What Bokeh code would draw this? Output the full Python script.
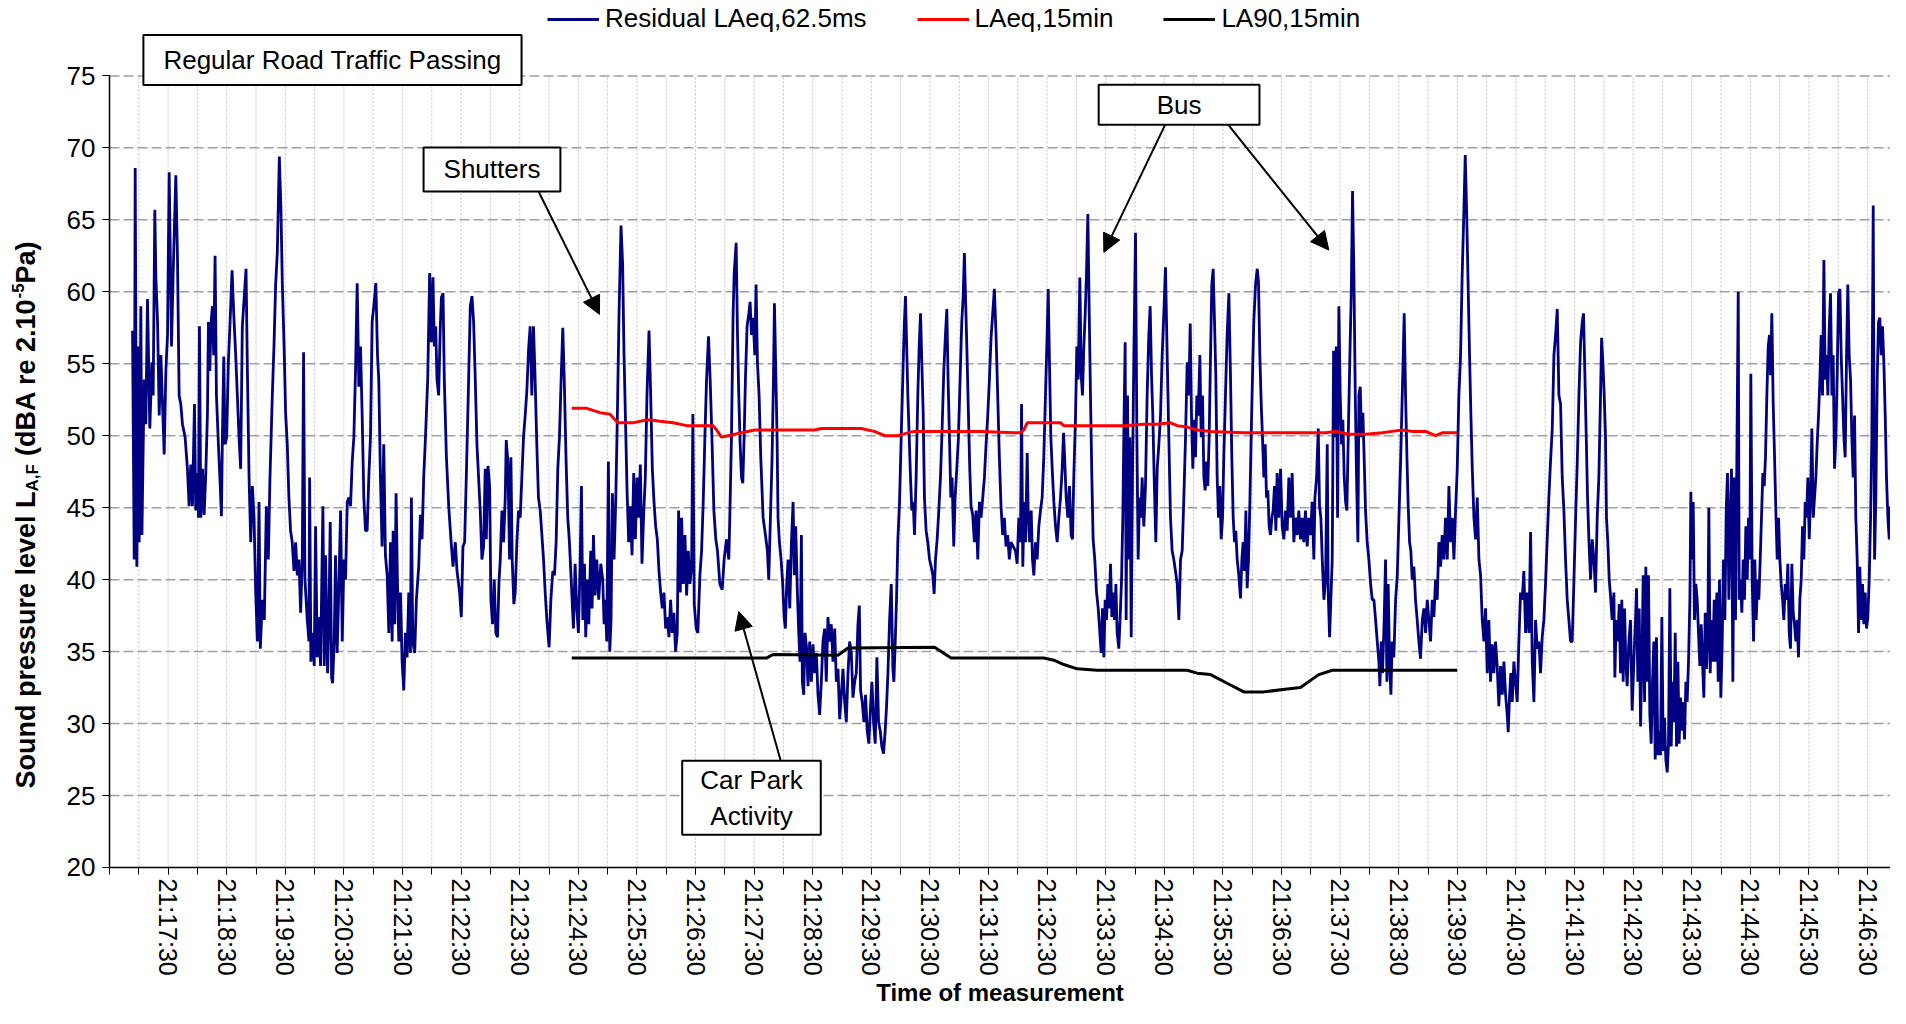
import math
from bokeh.plotting import figure
from bokeh.models import (FixedTicker, Range1d, Label, Arrow, NormalHead,
                          Legend, LegendItem)
from bokeh.embed import file_html
from bokeh.resources import INLINE

FONT = "Liberation Sans"

# ---------------- data (time = seconds after 21:16:30) ----------------
start_time = "21:16:30"
tick_labels = ["21:17:30", "21:18:30", "21:19:30", "21:20:30", "21:21:30", "21:22:30",
               "21:23:30", "21:24:30", "21:25:30", "21:26:30", "21:27:30", "21:28:30",
               "21:29:30", "21:30:30", "21:31:30", "21:32:30", "21:33:30", "21:34:30",
               "21:35:30", "21:36:30", "21:37:30", "21:38:30", "21:39:30", "21:40:30",
               "21:41:30", "21:42:30", "21:43:30", "21:44:30", "21:45:30", "21:46:30"]
y_ticks = [20, 25, 30, 35, 40, 45, 50, 55, 60, 65, 70, 75]

# Residual LAeq,62.5ms  (time s, dBA)
resid_1 = [(23.6,57.3),(25.3,41.4),(26.3,68.6),(28.0,40.9),(29.7,56.2),(30.4,42.6),(32.1,59.0),(33.2,43.1),(35.5,53.9),(37.2,50.8),(38.9,59.5),(41.3,50.5),(43.4,55.1),(44.7,52.8),(46.4,65.7),(47.5,61.0),(49.2,57.9),(50.9,51.4),(52.6,55.6),(54.3,52.2),(56.0,48.7),(57.7,54.5),(59.4,57.0),(61.1,68.3),(63.5,56.2),(65.2,61.3),(67.9,68.1),(69.6,62.4),(71.3,52.8),(73.0,52.2),(74.7,50.8),(77.4,49.9),(79.8,47.7),(81.5,45.1),(83.2,48.0),(84.9,45.1),(87.0,52.2),(88.3,44.8),(90.1,47.4),(91.1,44.3),(92.1,57.6),(93.5,44.3),(95.2,47.7),(96.9,44.5),(98.6,47.4),(100.3,51.6),(101.3,57.9),(102.7,54.5),(104.0,57.9),(105.4,59.0),(106.7,55.6),(108.1,62.5),(109.5,52.8),(111.5,49.4),(113.2,46.8),(114.6,44.4),(115.6,49.9),(117.0,55.5),(118.3,49.4),(120.0,49.9),(121.7,55.1),(123.1,57.3),(125.5,61.5),(127.2,58.5),(129.2,55.6),(130.9,52.8),(132.6,49.9),(134.3,47.7),(136.0,57.6),(139.8,61.6),(141.2,54.5),(142.9,47.1),(144.6,42.6),(146.3,46.5),(148.0,44.3),(149.7,39.1),(151.4,35.7),(153.1,45.4),(154.4,35.2),(156.5,38.6),(158.5,37.2),(160.6,45.1),(162.6,41.4),(164.3,47.1),(166.7,52.8),(168.4,56.2),(170.1,60.5),(171.8,62.7),(173.9,69.4),(175.6,65.6),(176.9,60.7),(179.0,55.6),(180.3,51.6),(182.0,49.4),(183.7,45.7),(185.4,43.4),(187.1,42.6),(188.9,40.6),(190.6,42.6),(192.3,40.3),(194.0,41.4),(195.7,37.7),(197.4,41.4),(198.7,55.8),(200.1,40.0),(202.5,37.2),(204.2,35.7),(204.9,47.1),(206.2,34.3),(208.3,36.3),(209.6,34.0),(211.0,43.7),(212.7,34.6),(214.4,37.4),(216.1,34.0),(218.5,45.1),(219.9,34.0),(221.2,41.7),(223.3,33.5),(224.6,37.2),(226.0,44.0),(227.4,33.2),(228.4,32.8),(230.1,35.7),(231.4,41.7),(233.1,34.9),(234.8,39.4),(236.6,44.8),(238.3,35.7),(240.0,41.4),(241.7,40.0),(243.4,45.4),(245.1,45.7),(246.8,45.1),(248.5,48.2),(250.2,49.9),(251.9,54.5),(253.6,60.6),(255.3,53.4),(257.0,56.2),(258.7,51.4),(260.4,45.7),(262.1,43.4),(263.8,43.4),(265.5,47.1),(267.2,49.9),(268.9,57.9),(270.6,59.0),(272.7,60.6),(274.4,55.6),(275.7,53.9),(277.4,47.1),(279.1,42.3),(280.8,49.4),(282.5,41.7),(284.3,40.3),(286.0,36.3),(287.7,42.6),(289.4,35.7),(290.4,43.4),(292.1,36.9),(293.4,46.0),(294.8,40.0),(296.2,35.7),(297.9,39.1),(299.6,34.3),(301.3,32.3),(303.0,36.3),(304.7,34.6),(306.4,39.1),(308.1,34.9),(309.1,45.7),(310.5,35.7),(312.5,34.9),(314.2,38.6),(316.6,40.9),(318.3,44.5),(320.0,42.8),(321.7,47.1),(323.4,49.7)]
resid_2 = [(325.8,53.9),(327.8,61.3),(329.5,56.5),(331.2,61.0),(332.6,56.2),(334.0,57.6),(335.3,53.9),(337.0,52.8),(338.7,57.6),(339.8,59.6),(341.5,59.9),(342.8,53.9),(344.9,48.6),(347.3,45.1),(349.6,42.8),(351.7,40.9),(354.1,42.6),(355.8,40.6),(358.5,39.1),(360.2,37.4),(361.9,42.3),(363.6,42.6),(365.3,47.1),(367.7,53.9),(369.4,59.0),(371.1,59.7),(372.8,57.9),(374.5,53.9),(376.2,49.4),(377.9,47.1),(379.6,44.8),(381.3,41.4),(383.0,42.3),(384.7,47.7),(385.8,42.8),(387.5,47.9),(389.2,46.5),(390.5,38.6),(392.2,36.9),(393.9,40.0),(395.6,36.3),(397.3,36.0),(398.7,39.7),(400.1,41.4),(401.8,44.8),(403.5,42.6),(405.2,45.7),(406.2,49.7),(407.9,48.2),(409.6,41.4),(411.0,48.5),(412.3,41.4),(414.0,38.3),(415.4,39.1),(417.1,42.6),(418.8,44.8),(420.5,44.3),(422.2,47.1),(423.9,49.9),(425.6,51.4),(427.3,53.1),(429.0,55.9),(430.7,57.6),(432.4,52.8),(434.1,57.6),(435.8,53.9),(437.5,49.4),(439.2,45.7),(441.0,44.8),(442.7,43.1),(444.4,41.4),(446.1,39.1),(447.8,37.2),(450.1,35.3),(451.9,38.6),(453.9,40.6),(455.6,40.3),(457.3,42.6),(459.0,47.7),(460.7,49.9),(462.4,53.9),(464.1,57.5),(465.8,53.4),(467.5,48.2),(469.2,44.3),(470.9,42.6),(473.3,39.1),(475.0,36.6),(476.7,41.1),(478.4,38.0),(480.1,36.3),(481.8,40.9),(483.2,46.5),(484.6,37.2),(486.3,41.1),(487.6,36.0),(489.3,40.0),(490.7,36.9),(492.7,42.0),(494.1,38.0),(495.5,43.1),(497.2,38.9),(498.9,41.4),(500.9,38.6),(503.0,41.1),(505.0,40.0),(506.4,36.9),(507.7,38.6),(509.1,35.7),(510.8,48.2),(512.2,35.0),(513.5,37.2),(514.9,46.0),(516.6,41.4),(518.3,45.4),(520.0,51.4),(521.7,58.5),(523.7,64.6),(525.4,61.9),(526.8,55.6),(528.5,50.5),(529.9,46.2),(531.6,42.6),(533.3,45.1),(535.0,41.7),(536.7,47.4),(538.4,42.8),(540.1,47.1),(541.8,44.3),(543.5,48.0),(545.2,41.1),(546.9,44.5),(548.6,47.1),(550.3,52.8),(552.4,57.3),(554.1,52.8),(555.8,47.7),(557.5,45.4),(559.2,43.7),(560.9,42.8),(562.6,40.6),(564.3,39.1),(566.0,38.0),(567.7,39.1),(569.4,36.6),(571.1,37.4),(572.8,36.0),(574.5,38.6),(576.2,36.3),(577.9,37.7),(579.6,35.0),(581.3,36.3),(582.7,44.8),(584.4,39.1),(585.8,44.3),(587.5,39.7),(589.2,43.1),(590.9,38.9),(592.6,42.0),(594.3,39.7),(596.0,40.9),(597.3,51.5),(598.7,38.3),(600.7,36.6),(602.4,36.3),(604.5,40.3),(606.2,42.0),(607.9,45.4),(609.6,49.9),(611.3,53.9),(613.3,56.9),(615.0,53.9),(616.8,49.9),(618.8,44.8),(620.8,42.8),(622.5,42.0),(624.9,39.7)]
resid_3 = [(627.3,39.3),(629.3,41.4),(631.7,42.8),(634.1,41.4),(635.1,44.3),(636.8,49.9),(638.5,58.5),(639.6,61.3),(641.6,63.4),(643.0,57.0),(644.3,52.8),(645.7,49.4),(647.1,47.1),(648.4,46.7),(649.8,49.9),(651.1,53.9),(652.8,57.6),(654.6,58.5),(655.9,59.3),(657.3,57.0),(659.0,58.2),(660.7,55.6),(662.0,60.5),(663.4,55.1),(665.1,52.8),(666.8,48.5),(669.2,44.3),(671.6,43.1),(673.6,42.0),(675.0,40.0),(676.7,44.3),(678.4,48.5),(679.8,53.9),(680.8,59.2),(682.1,54.8),(683.5,49.9),(684.5,44.3),(685.9,42.6),(687.6,41.4),(689.3,39.7),(690.7,37.4),(692.0,36.6),(693.4,39.7),(694.8,41.4),(696.5,38.0),(698.2,42.6),(699.9,45.4),(701.2,40.3),(702.6,43.7),(704.3,39.1),(705.7,36.3),(707.0,34.3),(708.4,43.1),(709.4,32.9),(710.8,32.0),(712.1,36.3),(713.8,35.2),(715.2,32.6),(716.9,35.7),(718.6,32.9),(720.3,35.5),(722.0,33.5),(723.7,34.9),(725.4,32.0),(727.1,30.6),(728.8,32.9),(730.5,35.7),(732.2,36.6),(733.9,32.9),(735.6,37.4),(737.3,35.7),(739.0,36.9),(740.7,34.3),(742.5,36.6),(744.2,32.9),(745.9,33.8),(747.6,30.3),(749.3,32.0),(751.0,33.8),(752.7,31.5),(754.4,30.1),(756.1,33.5),(757.8,35.7),(759.5,34.9),(761.2,31.8),(762.9,32.9),(764.6,33.5),(766.3,36.9),(767.7,38.2),(769.0,32.3),(770.7,31.5),(772.4,30.1),(774.1,32.0),(775.8,29.5),(777.5,28.6),(779.2,31.2),(780.6,32.9),(782.3,30.1),(784.0,28.6),(785.7,34.6),(787.4,30.1),(789.1,29.5),(790.8,28.4),(792.5,27.9),(794.2,29.5),(795.6,31.2),(797.0,33.5),(798.7,37.2),(800.4,39.7),(802.1,33.8),(803.1,32.9),(804.5,35.7),(805.8,38.6),(807.2,42.8),(808.9,45.4),(810.6,49.9),(812.3,54.2),(813.7,57.6),(815.0,59.7),(816.4,55.6),(817.4,52.8),(818.8,49.9),(820.1,47.1),(821.5,44.8),(822.9,45.4),(824.2,43.1),(825.9,47.1),(827.6,52.8),(829.0,56.2),(830.4,58.5),(831.7,55.1),(833.1,51.6),(834.4,45.7),(836.1,43.4),(837.8,42.6),(839.6,41.4),(841.3,40.9),(843.0,40.3),(844.3,39.0),(845.7,41.4),(847.4,42.8),(849.1,44.8),(850.8,47.1),(852.5,50.5),(854.2,54.5),(855.9,57.0),(857.3,58.8),(858.6,53.9),(860.0,49.9),(861.4,45.7),(862.7,47.1),(864.4,42.3),(865.8,45.7),(867.5,47.7),(869.2,49.9),(870.9,53.9),(872.6,57.9),(874.0,59.6),(875.3,62.7),(876.7,59.0),(878.0,55.6),(879.4,51.6),(880.8,47.7),(882.1,45.1),(883.8,44.5),(885.5,42.6),(887.3,44.8),(889.0,41.4),(890.7,45.4),(892.4,44.3),(894.1,45.7),(895.8,47.1),(897.5,49.4),(899.2,51.4),(900.9,53.9),(902.6,56.8),(904.3,58.5),(906.0,60.2),(907.7,57.0),(909.4,52.8),(911.1,48.5),(912.8,45.1),(914.5,43.1),(916.2,44.3),(917.9,42.3),(919.6,43.1),(921.3,41.4),(923.0,42.6)]
resid_4 = [(927.6,42.0),(929.3,41.1),(931.0,44.3),(932.7,42.6),(933.8,52.2),(935.1,40.9),(936.5,45.4),(937.9,42.6),(939.6,48.8),(940.6,44.8),(942.0,42.6),(943.7,44.8),(945.0,41.4),(946.4,40.3),(948.1,42.6),(949.8,41.4),(951.5,43.7),(953.2,44.8),(954.9,45.7),(956.6,48.5),(958.3,52.8),(960.0,57.0),(961.1,60.2),(962.4,55.1),(963.8,49.9),(965.2,47.7),(966.9,45.4),(968.6,43.7),(970.3,42.6),(972.0,44.3),(973.7,45.7),(975.4,47.7),(976.8,50.2),(978.1,48.2),(979.5,45.7),(981.2,44.3),(982.9,46.5),(984.6,43.1),(986.0,42.8),(987.3,47.1),(989.1,51.4),(990.4,56.2),(991.8,53.9),(993.5,61.0),(994.9,54.2),(996.2,52.8),(997.6,56.2),(999.0,58.5),(1000.3,61.3),(1001.7,65.4),(1003.0,59.0),(1004.4,52.8),(1005.8,47.1),(1007.1,42.8),(1008.8,41.4),(1010.6,39.1),(1012.3,38.0),(1014.0,36.3),(1015.3,34.9),(1016.7,38.0),(1018.1,34.6),(1019.4,38.6),(1020.8,37.2),(1022.2,39.7),(1023.5,38.0),(1024.9,41.1),(1026.3,37.4),(1027.6,39.1),(1029.0,37.2),(1030.4,39.7),(1031.7,36.3),(1033.4,35.2),(1034.8,37.4),(1036.2,40.0),(1037.5,44.3),(1038.5,49.9),(1039.9,56.5),(1040.9,37.2),(1042.3,52.8),(1043.7,41.4),(1044.7,49.9),(1046.1,36.0),(1047.4,47.1),(1048.8,55.6),(1050.5,64.1),(1051.9,49.9),(1053.2,41.4),(1054.6,45.7),(1056.0,44.3),(1057.3,47.1),(1059.0,43.7),(1060.7,46.5),(1062.4,52.8),(1064.1,57.0),(1065.5,59.0),(1066.9,54.2),(1068.2,51.4),(1069.6,47.1),(1071.3,42.6),(1072.7,47.7),(1074.4,49.4),(1076.1,51.4),(1077.8,55.6),(1079.5,58.5),(1081.2,61.7),(1082.9,55.6),(1084.6,49.9),(1086.3,44.3),(1088.0,42.0),(1089.7,41.4),(1091.4,40.6),(1093.2,39.7),(1094.9,37.2),(1096.6,41.4),(1098.3,42.0),(1100.0,45.7),(1101.7,49.9),(1103.4,55.1),(1105.1,52.8),(1106.5,57.8),(1107.8,51.4),(1109.2,47.7),(1110.6,51.1),(1111.9,48.5),(1113.3,52.8),(1114.7,51.4),(1116.4,55.6),(1117.7,49.9),(1119.1,52.8),(1120.5,47.1),(1121.8,46.2),(1123.2,48.2),(1124.5,46.5),(1125.9,49.9),(1127.3,55.6),(1128.6,60.5),(1130.0,61.6),(1131.4,57.9),(1132.7,54.2),(1134.1,47.1),(1135.5,44.3),(1136.8,46.5),(1138.2,42.8),(1139.6,44.3),(1140.9,48.5),(1142.6,52.8),(1144.3,57.0),(1146.1,59.9),(1147.8,53.9),(1149.1,48.5),(1150.5,44.3),(1151.9,42.6),(1153.2,43.4),(1154.6,41.4),(1156.3,40.3),(1158.0,38.7),(1159.4,41.4),(1160.7,42.6),(1162.1,40.6),(1163.5,44.8),(1164.8,39.4),(1166.2,41.4),(1167.6,45.4),(1168.9,49.9),(1170.3,54.2),(1171.6,57.9),(1173.4,60.5),(1175.1,61.6),(1176.4,60.7),(1177.8,55.6),(1179.2,52.2),(1180.5,49.9),(1181.9,47.1),(1183.3,49.4),(1184.6,45.7),(1186.0,46.2),(1187.3,43.7),(1188.7,43.1),(1190.1,44.3),(1191.4,44.8),(1192.8,46.5),(1194.2,43.4),(1195.5,47.4),(1197.2,44.3),(1199.0,47.7),(1200.7,43.7),(1202.4,42.8),(1204.1,44.8),(1205.8,43.4),(1207.5,47.1),(1209.2,44.3),(1210.9,47.4),(1212.6,42.6),(1214.3,44.3),(1216.0,43.1),(1217.7,44.8),(1219.4,42.8),(1221.1,44.3),(1222.8,42.6),(1224.5,44.8),(1226.3,42.3),(1228.0,44.3),(1229.7,43.1)]
resid_5 = [(1231.4,45.4),(1233.1,41.4),(1234.2,45.7),(1235.9,47.1),(1237.6,50.5),(1238.9,45.1),(1240.3,44.3),(1241.7,41.4),(1243.4,38.6),(1245.1,40.0),(1246.8,49.4),(1247.8,39.1),(1249.2,36.0),(1250.5,38.6),(1251.9,41.4),(1253.3,55.9),(1254.6,49.9),(1256.0,56.2),(1257.4,44.3),(1258.7,59.0),(1260.1,52.8),(1261.5,49.4),(1262.8,51.1),(1264.2,47.1),(1265.6,45.4),(1266.9,44.8),(1268.3,49.9),(1270.0,55.6),(1271.4,59.9),(1272.7,67.0),(1274.1,61.3),(1275.5,52.8),(1276.8,47.1),(1278.2,42.6),(1279.2,52.8),(1280.6,53.4),(1281.9,49.9),(1283.3,51.6),(1284.7,48.2),(1286.0,44.8),(1287.7,42.6),(1289.4,41.4),(1291.2,39.7),(1292.9,38.6),(1294.6,38.6),(1296.3,37.2),(1298.0,35.7),(1299.7,34.3),(1300.7,32.6),(1302.1,35.7),(1303.4,33.5),(1305.1,37.2),(1306.5,41.4),(1307.9,32.9),(1309.2,39.7),(1310.6,34.3),(1312.0,32.0),(1313.3,35.7),(1315.0,34.6),(1316.8,38.6),(1318.5,40.3),(1320.2,44.3),(1321.9,48.2),(1323.6,52.8),(1324.6,55.6),(1325.6,58.5),(1327.0,52.8),(1328.4,48.5),(1329.7,45.1),(1331.1,42.6),(1332.4,42.0),(1333.8,40.0),(1335.5,40.9),(1337.2,38.6),(1338.9,37.2),(1340.6,35.7),(1342.3,34.5),(1344.1,37.2),(1345.8,38.0),(1347.5,36.3),(1349.2,38.6),(1350.9,37.2),(1352.6,35.7),(1354.3,38.6),(1356.0,37.4),(1357.7,40.0),(1359.4,38.6),(1361.1,42.6),(1362.8,40.9),(1364.5,43.1),(1366.2,41.4),(1367.9,44.3),(1369.7,41.4),(1371.4,46.5),(1373.1,42.6),(1374.8,44.3),(1376.5,41.4),(1378.2,44.8),(1379.9,47.7),(1381.6,52.8),(1383.3,55.6),(1385.0,61.3),(1386.7,65.6),(1388.1,69.5),(1389.5,65.6),(1390.8,61.3),(1392.5,55.6),(1393.9,51.4),(1395.3,47.7),(1397.0,44.3),(1398.7,42.8),(1400.4,45.7),(1402.1,41.4),(1403.8,40.3),(1405.5,37.2),(1407.2,35.7),(1408.9,38.0),(1410.6,33.5),(1412.3,37.2),(1414.0,32.9),(1415.7,35.5),(1417.4,33.5),(1419.1,35.7),(1420.8,34.0),(1422.5,31.2),(1424.3,34.0),(1426.0,32.0),(1427.7,34.3),(1429.4,32.0),(1431.1,30.6),(1432.1,29.4),(1433.5,32.0),(1434.8,33.5),(1436.2,31.5),(1437.9,34.3),(1439.6,32.9),(1441.3,31.5),(1443.0,35.7),(1444.7,39.1),(1446.4,38.6),(1448.1,40.6),(1449.9,36.3),(1451.6,39.1),(1453.3,36.3),(1455.0,43.3),(1456.7,34.3),(1458.4,31.5),(1460.1,37.2),(1461.8,35.2),(1463.5,35.7),(1465.2,33.5),(1466.9,36.0),(1468.6,37.2),(1470.3,39.7),(1472.0,42.8),(1473.7,45.7),(1475.4,48.2),(1477.2,50.5),(1478.9,55.6),(1480.6,57.0),(1482.3,58.8),(1484.0,52.8),(1485.7,52.2),(1487.4,47.1),(1489.1,44.8),(1490.8,41.4),(1492.5,38.6),(1494.2,37.2),(1495.9,35.7),(1497.6,35.7),(1499.4,40.0),(1501.1,44.3),(1502.8,48.2),(1504.5,52.8),(1506.2,56.5),(1507.9,57.9),(1509.2,58.5),(1510.6,54.2),(1512.0,49.9),(1513.3,45.7),(1514.7,42.8),(1516.4,40.0),(1518.1,42.8),(1519.8,41.4),(1521.5,39.1),(1523.2,44.3),(1524.9,47.1),(1526.6,52.8),(1527.7,56.8),(1529.0,55.1),(1530.4,52.8)]
resid_6 = [(1531.7,49.9),(1532.7,44.3),(1534.1,42.6),(1535.5,40.0),(1536.8,38.9),(1538.5,37.2),(1540.3,39.1),(1541.3,33.2),(1542.6,37.2),(1544.3,35.7),(1545.7,38.3),(1547.1,33.5),(1548.4,38.6),(1549.8,32.9),(1551.2,38.0),(1552.5,34.3),(1553.9,32.6),(1555.6,35.7),(1557.3,37.2),(1559.0,30.9),(1560.7,34.3),(1562.4,37.2),(1563.5,39.4),(1564.8,32.9),(1566.2,38.0),(1567.6,29.8),(1569.3,35.7),(1570.3,40.3),(1571.7,31.5),(1573.0,40.9),(1574.4,32.9),(1575.7,40.3),(1577.1,30.6),(1578.5,28.6),(1579.8,32.9),(1581.2,35.7),(1582.6,27.5),(1583.9,36.0),(1585.3,27.8),(1586.7,29.5),(1588.0,27.8),(1589.4,37.4),(1590.8,28.1),(1592.1,30.4),(1593.5,27.5),(1594.9,26.6),(1596.2,28.6),(1597.6,39.4),(1599.0,28.4),(1600.3,32.9),(1601.7,30.1),(1603.1,36.3),(1604.4,28.4),(1605.8,34.3),(1607.1,28.6),(1608.5,31.8),(1609.9,29.5),(1611.2,31.5),(1612.6,28.9),(1614.0,32.9),(1615.3,31.5),(1616.7,34.3),(1618.1,38.6),(1619.1,46.1),(1620.1,41.4),(1621.5,45.4),(1622.8,37.2),(1624.2,39.7),(1625.6,38.6),(1626.9,36.3),(1628.3,34.0),(1629.7,36.9),(1631.0,34.3),(1632.4,31.8),(1633.8,37.7),(1635.1,33.8),(1636.5,36.3),(1637.5,45.0),(1638.9,33.5),(1640.3,37.2),(1641.6,34.3),(1643.0,38.6),(1644.4,34.3),(1645.7,39.1),(1647.1,32.9),(1648.4,40.0),(1649.8,31.8),(1651.2,35.7),(1652.5,41.4),(1653.9,37.2),(1655.3,44.8),(1656.6,47.4),(1658.0,38.6),(1659.4,44.3),(1660.7,47.7),(1662.1,32.9),(1663.5,47.1),(1664.8,37.2),(1666.2,48.5),(1667.6,60.0),(1668.6,38.6),(1669.9,40.0),(1671.3,37.7),(1672.7,41.4),(1674.0,38.6),(1675.4,43.7),(1676.8,40.0),(1678.1,44.3),(1679.5,41.4),(1680.5,54.3),(1681.9,40.0),(1683.3,35.7),(1684.6,41.4),(1686.0,37.2),(1687.4,40.0),(1688.7,38.6),(1690.1,41.4),(1691.4,44.3),(1692.8,47.4),(1694.2,46.5),(1695.5,48.5),(1696.9,52.8),(1698.3,56.2),(1699.6,57.0),(1700.7,54.2),(1702.0,58.5),(1703.4,52.2),(1704.8,48.5),(1706.1,44.8),(1707.5,41.4),(1708.9,44.3),(1710.2,41.4),(1711.6,39.7),(1713.0,38.6),(1714.3,37.2),(1715.7,39.7),(1717.0,38.6),(1718.4,41.1),(1719.8,36.3),(1721.1,35.2),(1722.5,41.1),(1723.9,37.7),(1725.2,36.9),(1726.6,35.7),(1728.0,37.2),(1729.3,34.6),(1730.7,38.6),(1732.1,40.0),(1733.4,43.7),(1734.8,41.4),(1736.2,45.4),(1737.5,44.3),(1738.9,47.1),(1740.3,42.8),(1741.6,45.7),(1743.0,50.5),(1744.4,44.3),(1745.7,45.7),(1747.1,47.1),(1748.4,49.4),(1749.8,51.4),(1751.2,53.9),(1752.5,57.0),(1753.9,52.8),(1755.3,62.2),(1756.6,53.9),(1758.0,55.6),(1759.4,52.8),(1760.7,57.3),(1762.1,59.9),(1763.5,52.8),(1764.8,55.6),(1766.2,47.7),(1767.6,49.9),(1768.9,54.2),(1770.3,59.9),(1771.7,60.2),(1773.0,55.6),(1774.4,52.8),(1775.8,49.9),(1777.1,48.5),(1778.5,55.6),(1779.8,60.5),(1781.2,55.6),(1782.6,53.9),(1783.9,49.9),(1785.3,47.1),(1786.7,51.4),(1788.0,44.3),(1789.4,41.4),(1790.8,36.3),(1792.1,40.9),(1793.5,37.2),(1794.9,39.7),(1796.2,36.9),(1797.6,39.1),(1799.0,36.6),(1800.3,37.4),(1801.7,40.0),(1803.1,44.3),(1804.4,49.9),(1805.8,66.0),(1807.2,41.4),(1808.5,45.7),(1809.9,53.9),(1811.2,57.9),(1812.6,58.2),(1814.0,55.6),(1815.3,57.6),(1816.7,55.1),(1818.1,51.4),(1819.4,47.1),(1820.8,44.3),(1822.2,42.8),(1823.5,45.1),(1824.9,41.4),(1826.3,43.1),(1827.6,41.4),(1828.6,48.2),(1829.7,44.3)]

# LAeq,15min
laeq15_t = [473.3, 488.7, 502.3, 512.5, 517.6, 521.0, 536.3, 550.0, 553.4, 563.6, 577.2, 590.9, 611.3, 618.1, 621.5, 626.6, 633.4, 647.1, 660.7, 674.3, 701.6, 722.0, 728.8, 742.5, 769.7, 776.5, 783.3, 793.6, 807.2, 817.4, 824.2, 858.3, 892.4, 926.4, 932.7, 936.2, 939.6, 956.6, 973.7, 977.1, 990.8, 1024.9, 1038.5, 1059.0, 1072.7, 1086.3, 1089.7, 1093.2, 1103.4, 1113.6, 1127.3, 1161.4, 1195.5, 1229.7, 1245.1, 1255.3, 1269.0, 1286.0, 1303.1, 1313.3, 1323.6, 1333.8, 1347.5, 1357.7, 1364.5, 1379.9]
laeq15_v = [51.9, 51.9, 51.6, 51.5, 51.1, 50.9, 50.9, 51.1, 51.1, 51.0, 50.9, 50.7, 50.7, 50.7, 50.4, 49.9, 50.0, 50.2, 50.4, 50.4, 50.4, 50.4, 50.5, 50.5, 50.5, 50.4, 50.3, 50.0, 50.0, 50.2, 50.3, 50.3, 50.3, 50.2, 50.2, 50.4, 50.9, 50.9, 50.9, 50.7, 50.7, 50.7, 50.7, 50.8, 50.8, 50.9, 50.8, 50.7, 50.6, 50.4, 50.3, 50.2, 50.2, 50.2, 50.2, 50.3, 50.1, 50.1, 50.2, 50.3, 50.4, 50.3, 50.3, 50.0, 50.2, 50.2]

# LA90,15min
la9015_t = [473.3, 672.6, 679.4, 745.9, 756.1, 844.7, 851.5, 861.7, 956.6, 966.9, 977.1, 990.8, 1011.2, 1103.4, 1113.6, 1127.3, 1144.3, 1161.4, 1181.9, 1205.8, 1219.4, 1229.7, 1238.3, 1251.9, 1379.9]
la9015_v = [34.55, 34.55, 34.8, 34.75, 35.25, 35.3, 35.0, 34.55, 34.55, 34.4, 34.1, 33.8, 33.7, 33.7, 33.5, 33.4, 32.8, 32.2, 32.2, 32.4, 32.5, 33.0, 33.4, 33.7, 33.7]

# ---------------- build ----------------
def secs(s):
    h, m, x = (int(v) for v in s.split(":"))
    return h * 3600 + m * 60 + x

T0 = secs(start_time)
tick_pos = [secs(s) - T0 for s in tick_labels]
minor_pos = list(range(0, 1830, 30))
T_END = 1830

resid = resid_1 + resid_2 + resid_3 + resid_4 + resid_5 + resid_6
resid_t = [a for a, b in resid]
resid_v = [b for a, b in resid]

# The frame covers the whole canvas; both axes are pinned (fixed_location)
# so that legend, boxes, axis labels and the y title all sit inside it.
W, H = 1890, 1008
p = figure(width=W, height=H, output_backend="svg", toolbar_location=None,
           x_range=Range1d(-111.6, 1823.5), y_range=Range1d(10.20, 80.24),
           min_border_left=0, min_border_right=0, min_border_top=0,
           min_border_bottom=0)
p.outline_line_color = None
p.background_fill_color = "white"
p.border_fill_color = "white"
p.xgrid.visible = False
p.ygrid.visible = False

xa = p.xaxis[0]
xa.fixed_location = y_ticks[0]
xa.bounds = (0, T_END)
xa.ticker = FixedTicker(ticks=tick_pos, minor_ticks=minor_pos)
xa.major_label_overrides = {tp: lab for tp, lab in zip(tick_pos, tick_labels)}
xa.major_label_orientation = -math.pi / 2
xa.major_label_text_font = FONT
xa.major_label_text_font_size = "25px"
xa.major_label_text_color = "black"
xa.major_label_standoff = 4
xa.major_tick_in = 0
xa.major_tick_out = 7
xa.minor_tick_in = 0
xa.minor_tick_out = 7
xa.major_tick_line_color = "black"
xa.minor_tick_line_color = "black"
xa.axis_line_color = "black"
xa.axis_line_width = 1.5
xa.axis_label = "Time of measurement"
xa.axis_label_text_font = FONT
xa.axis_label_text_font_size = "24px"
xa.axis_label_text_font_style = "bold"
xa.axis_label_text_color = "black"
xa.axis_label_standoff = 0

ya = p.yaxis[0]
ya.fixed_location = 0
ya.bounds = (20, 75)
ya.ticker = FixedTicker(ticks=y_ticks, minor_ticks=[])
ya.major_label_text_font = FONT
ya.major_label_text_font_size = "26px"
ya.major_label_text_color = "black"
ya.major_label_standoff = 7
ya.major_tick_in = 0
ya.major_tick_out = 7
ya.minor_tick_out = 0
ya.major_tick_line_color = "black"
ya.axis_line_color = "black"
ya.axis_line_width = 1.5

# gridlines (limited to the 20..75 plotting box)
gx = [t for t in minor_pos if t > 0]
p.segment(x0=gx, y0=[y_ticks[0]] * len(gx), x1=gx, y1=[y_ticks[-1]] * len(gx),
          line_color="#c4c4c4", line_width=1, line_dash="2 2", level="underlay")
gy = y_ticks[1:]
p.segment(x0=[0] * len(gy), y0=gy, x1=[T_END] * len(gy), y1=gy,
          line_color="#a0a0a0", line_width=1.5, line_dash="10 4", level="underlay")

r_res = p.line(resid_t, resid_v, line_color="#000080", line_width=2.8)
r_eq = p.line(laeq15_t, laeq15_v, line_color="#ff0000", line_width=3)
r_90 = p.line(la9015_t, la9015_v, line_color="black", line_width=3)

legend = Legend(items=[LegendItem(label="Residual LAeq,62.5ms", renderers=[r_res]),
                       LegendItem(label="LAeq,15min", renderers=[r_eq]),
                       LegendItem(label="LA90,15min", renderers=[r_90])],
                orientation="horizontal", location=(547, 974), padding=0, margin=0,
                spacing=50, glyph_width=52, glyph_height=20, label_standoff=6,
                label_text_font=FONT, label_text_font_size="26px",
                label_text_color="black", border_line_color=None,
                background_fill_alpha=0)
p.add_layout(legend)

def note(x, y, text, pad):
    p.add_layout(Label(x=x, y=y, text=text, text_align="center", text_baseline="middle",
                       text_font=FONT, text_font_size="26px", text_color="black",
                       background_fill_color="white", border_line_color="black",
                       border_line_width=2, padding=pad))

note(228.3, 76.1, "Regular Road Traffic Passing", (20, 10))
note(391.6, 68.5, "Shutters", (20, 7))
note(1095.1, 73.0, "Bus", (58, 5))
note(657.3, 24.85, "Car Park\nActivity", (18, 4))

def arrow(x0, y0, x1, y1):
    p.add_layout(Arrow(x_start=x0, y_start=y0, x_end=x1, y_end=y1, line_width=2,
                       line_color="black",
                       end=NormalHead(size=18, fill_color="black", line_color="black")))

arrow(439.3, 66.97, 501.7, 58.43)
arrow(1080.8, 71.6, 1018.1, 62.74)
arrow(1145.5, 71.6, 1248.4, 62.9)
arrow(687.0, 27.46, 644.3, 37.79)

# y axis title built from pieces (subscript / superscript), screen units
def ypiece(text, y, dx, size):
    p.add_layout(Label(x=25 + dx, y=y, x_units="screen", y_units="screen", text=text,
                       angle=math.pi / 2, text_align="left", text_baseline="middle",
                       text_font=FONT, text_font_size=size, text_font_style="bold",
                       text_color="black"))

ypiece("Sound pressure level L", 220, 0, "27px")
ypiece("A,F", 517, 7, "17px")
ypiece("(dBA re 2.10", 552.5, 0, "27px")
ypiece("-5", 710, -8, "17px")
ypiece("Pa)", 725, 0, "27px")

open("out.html", "w").write(file_html(p, INLINE))
